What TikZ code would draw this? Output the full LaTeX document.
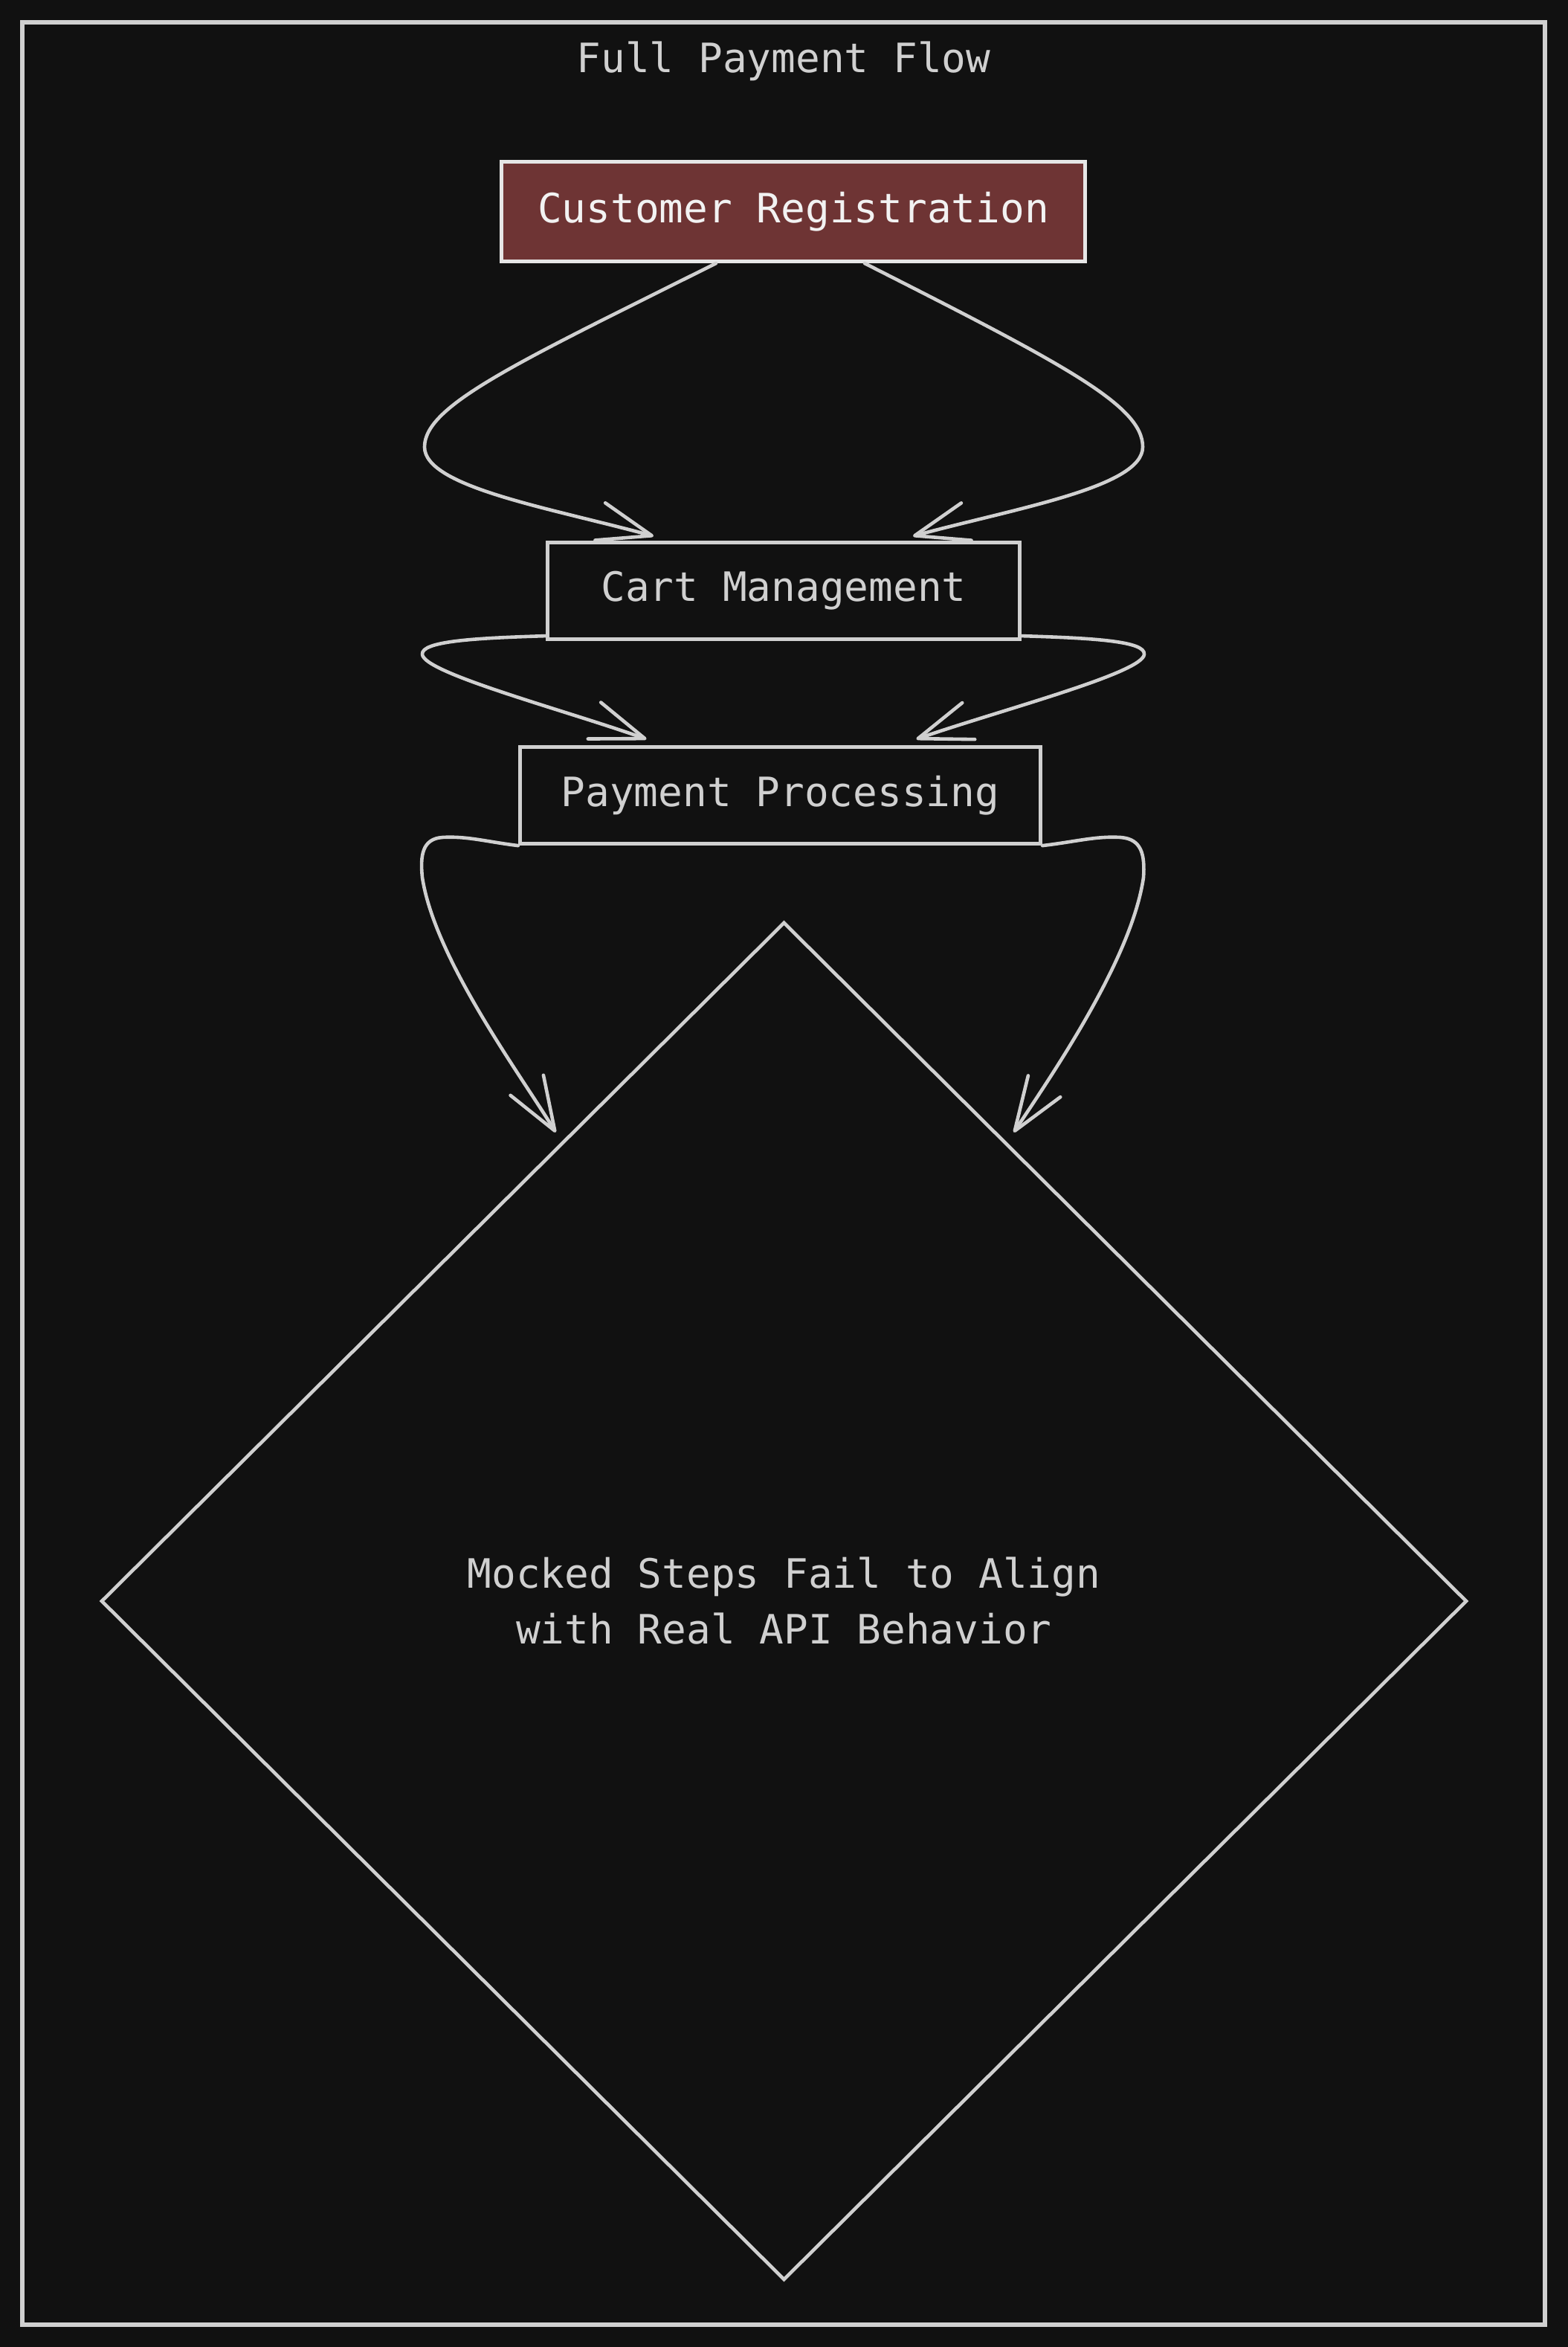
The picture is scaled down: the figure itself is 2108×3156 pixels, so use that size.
\documentclass[tikz,border=0pt]{standalone}
\usepackage{fontspec}
\setmonofont{DejaVu Sans Mono}
\usetikzlibrary{arrows.meta,calc,shapes.geometric}
\definecolor{bgc}{HTML}{111111}
\definecolor{linec}{HTML}{D0D0D0}
\definecolor{crfill}{HTML}{6E3434}
\definecolor{crline}{HTML}{E6E6E6}
\definecolor{crtext}{HTML}{F2F2F2}
\begin{document}
\begin{tikzpicture}[x=0.25pt,y=-0.25pt,
  lbl/.style={font=\ttfamily\fontsize{13.6pt}{18.75pt}\selectfont, text=linec},
  procbox/.style={rectangle, draw=linec, line width=1.3pt, fill=bgc, inner sep=0pt, minimum height=32.5pt, lbl},
  flow/.style={draw=linec, line width=1.15pt, line cap=round, line join=round,
    -{Straight Barb[length=18pt,width=13pt,round]}}
]
\useasboundingbox (0,0) rectangle (2108,3156);
\fill[bgc] (-40,-40) rectangle (2148,3196);
\draw[linec, line width=1.45pt] (30,30) rectangle (2078,3126);
\node[lbl, anchor=base] (title) at (1054,98) {Full Payment Flow};
\node[procbox, fill=crfill, draw=crline, text=crtext, minimum width=196.25pt, minimum height=33.5pt] (cr) at (1067,284.5) {Customer Registration};
\node[procbox, minimum width=158.75pt] (cm) at (1054,794.5) {Cart Management};
\node[procbox, minimum width=175pt] (pp) at (1049.5,1069.5) {Payment Processing};
\node[diamond, draw=linec, line width=1.15pt, inner sep=0pt, minimum width=459.25pt, minimum height=456.5pt, lbl, align=center] (dm) at (1054.5,2153) {Mocked Steps Fail to Align\\with Real API Behavior};
% Customer Registration -> Cart Management
\draw[flow] ($(cr.south)+(-104,0)$) .. controls (695,488) and (571,545) .. (571,601) .. controls (571,655) and (740,683) .. ($(cm.north)+(-175,-6)$);
\draw[flow] ($(cr.south)+(96,0)$) .. controls (1431,490) and (1537,545) .. (1537,601) .. controls (1537,655) and (1368,683) .. ($(cm.north)+(174,-6)$);
% Cart Management -> Payment Processing
\draw[flow] ($(cm.south west)+(0,-7)$) .. controls (640,858) and (566,862) .. (568,880) .. controls (570,905) and (760,955) .. ($(pp.north)+(-180,-8)$);
\draw[flow] ($(cm.south east)+(0,-7)$) .. controls (1470,858) and (1541,862) .. (1539,880) .. controls (1537,905) and (1345,955) .. ($(pp.north)+(183,-8)$);
% Payment Processing -> decision
\draw[flow] (pp.south west) .. controls (655,1132) and (628,1124) .. (595,1126) .. controls (568,1128) and (565,1150) .. (568,1180) .. controls (585,1290) and (700,1445) .. ($(dm.north)+(-307,285)$);
\draw[flow] (pp.south east) .. controls (1446,1132) and (1474,1124) .. (1507,1126) .. controls (1536,1128) and (1540,1150) .. (1538,1180) .. controls (1522,1290) and (1415,1445) .. ($(dm.north)+(309,285)$);
\end{tikzpicture}
\end{document}
